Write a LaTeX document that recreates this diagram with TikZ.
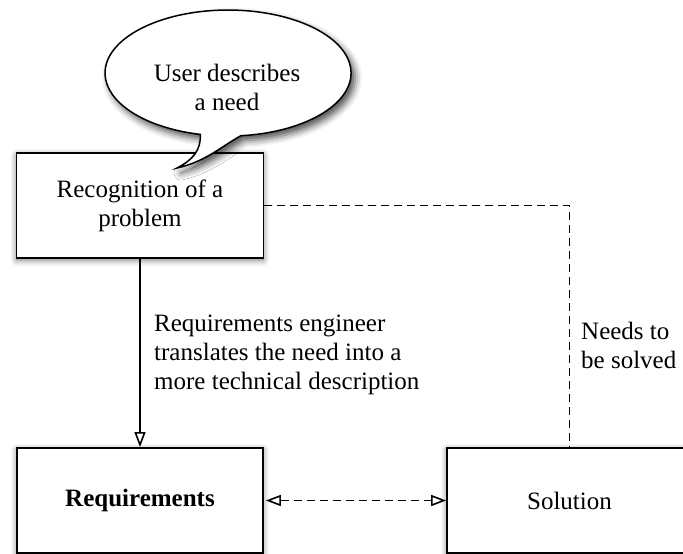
\documentclass[tikz,border=0pt]{standalone}
\usepackage{fontspec}
\setmainfont{Liberation Serif}
\usetikzlibrary{arrows.meta,shadows.blur}
\tikzset{otri/.tip={Triangle[open, length=15pt, width=11pt, line width=1.6pt]}}
\begin{document}
\begin{tikzpicture}[x=1pt,y=-1pt,
  every node/.style={font=\fontsize{25}{29}\selectfont},
  box/.style={draw, line width=1.8pt, fill=white, minimum width=#1, minimum height=105pt, inner sep=0pt,
    blur shadow={shadow xshift=0pt, shadow yshift=-2pt, shadow blur radius=6pt, shadow opacity=55}},
  lbl/.style={inner sep=0pt, align=left, anchor=west},
  dsh/.style={line width=1.6pt, dash pattern=on 8pt off 5pt}
]
\useasboundingbox (0,0) rectangle (683,554);
\node[box=247pt, align=center] (rec) at (140,205.5) {Recognition of a\\problem};
\node[box=246pt] (req) at (140,500.5) {\bfseries Requirements};
\node[box=245pt] (sol) at (569.5,500.5) {Solution};
% callout
\path[draw, line width=1.5pt, fill=white,
  blur shadow={shadow xshift=4pt, shadow yshift=-5pt, shadow blur radius=7pt, shadow opacity=70}]
  (240.9,135.7) arc[start angle=84, end angle=-257, x radius=123, y radius=63]
  .. controls (201,150) and (193,160) .. (177,168)
  .. controls (205,162) and (222,146) .. cycle;
\node[align=center, inner sep=0pt] (user) at (227,87.5) {User describes\\a need};
% connectors
\draw[line width=1.4pt, -{otri}] (rec.south) -- (req.north);
\draw[dsh] (rec.east) -| (sol.north);
\draw[dsh, {otri}-{otri}, shorten <=2pt] (req.east) -- (sol.west);
\node[lbl] (t1) at (154,355) {Requirements engineer\\translates the need into a\\more technical description};
\node[lbl] (t2) at (581,345) {Needs to\\be solved};
\end{tikzpicture}
\end{document}
